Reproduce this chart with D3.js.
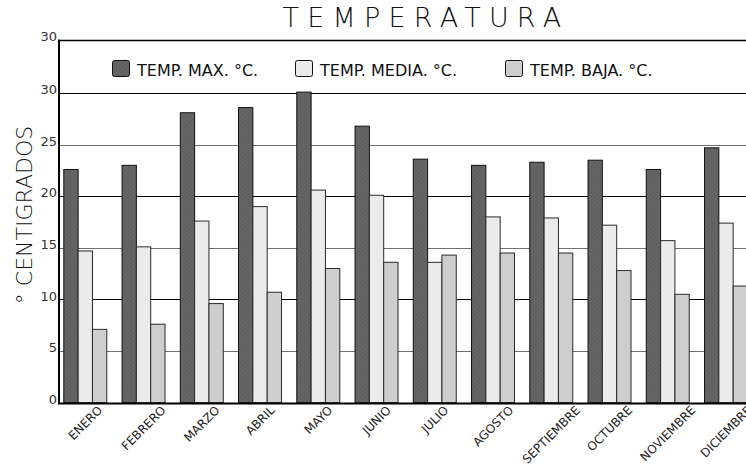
<!DOCTYPE html>
<html>
<head>
<meta charset="utf-8">
<script src="https://cdn.jsdelivr.net/npm/d3@7"></script>
<style>
  html, body { margin: 0; padding: 0; background: #fff; }
  svg { display: block; font-family: "DejaVu Sans", sans-serif; }
</style>
</head>
<body>
<div id="container"></div>
<script>
const months = ['ENERO', 'FEBRERO', 'MARZO', 'ABRIL', 'MAYO', 'JUNIO', 'JULIO', 'AGOSTO', 'SEPTIEMBRE', 'OCTUBRE', 'NOVIEMBRE', 'DICIEMBRE'];
const tempMax   = [22.6, 23.0, 28.1, 28.6, 30.1, 26.8, 23.6, 23.0, 23.3, 23.5, 22.6, 24.7];
const tempMedia = [14.7, 15.1, 17.6, 19.0, 20.6, 20.1, 13.6, 18.0, 17.9, 17.2, 15.7, 17.4];
const tempBaja  = [7.1, 7.6, 9.6, 10.7, 13.0, 13.6, 14.3, 14.5, 14.5, 12.8, 10.5, 11.3];
const seriesNames = ['TEMP. MAX. °C.', 'TEMP. MEDIA. °C.', 'TEMP. BAJA. °C.'];
const yTicks = [0, 5, 10, 15, 20, 25, 30, 35.2];
const yTickLabels = ['0', '5', '10', '15', '20', '25', '30', '30'];

const W = 746, H = 467;
const colors = ['url(#hatch)', '#ebebeb', '#cecece'];
const series = [tempMax, tempMedia, tempBaja];

const svg = d3.select('#container').append('svg')
    .attr('width', W).attr('height', H);

// subtle diagonal texture on the dark bars
const pat = svg.append('defs').append('pattern')
    .attr('id', 'hatch').attr('patternUnits', 'userSpaceOnUse')
    .attr('width', 3).attr('height', 3).attr('patternTransform', 'rotate(45)');
pat.append('rect').attr('width', 3).attr('height', 3).attr('fill', '#666');
pat.append('rect').attr('width', 1).attr('height', 3).attr('fill', '#5c5c5c');

const x = d3.scaleBand().domain(months).range([60, 750.3])
    .paddingInner(0.262).paddingOuter(0.0567);
const xs = d3.scaleBand().domain([0, 1, 2]).range([0, x.bandwidth()]);
const y = d3.scaleLinear().domain([0, 35.2]).range([402.6, 39.5]);

// gridlines
svg.append('g').selectAll('line')
    .data(yTicks.slice(1))
    .join('line')
    .attr('x1', 60).attr('x2', W)
    .attr('y1', d => Math.round(y(d)) + 0.5).attr('y2', d => Math.round(y(d)) + 0.5)
    .attr('stroke', d => (d % 10 === 5 ? '#707070' : '#000'))
    .attr('stroke-width', (d, i) => (i === yTicks.length - 2 ? 1.6 : 1.2));

// y tick labels
const yAxis = svg.append('g').attr('transform', 'translate(57,0)')
    .call(d3.axisLeft(y).tickValues(yTicks).tickSize(0)
        .tickFormat((d, i) => yTickLabels[i]));
yAxis.select('.domain').remove();
yAxis.selectAll('text')
    .attr('x', 0).attr('dy', '0.05em')
    .attr('font-size', 13).attr('fill', '#333')
    .attr('font-family', '"DejaVu Sans", sans-serif');

// bars
const groups = svg.append('g').selectAll('g')
    .data(months)
    .join('g')
    .attr('transform', d => `translate(${x(d)},0)`);

groups.selectAll('rect')
    .data((d, i) => series.map((s, k) => ({ k, v: s[i] })))
    .join('rect')
    .attr('x', d => xs(d.k) + 0.5)
    .attr('width', xs.bandwidth())
    .attr('y', d => y(d.v))
    .attr('height', d => y(0) - y(d.v))
    .attr('fill', d => colors[d.k])
    .attr('stroke', d => (d.k === 0 ? '#111' : '#2a2a2a'))
    .attr('stroke-width', 1);

// axes lines
svg.append('line').attr('x1', 59).attr('x2', 59).attr('y1', y(35.2)).attr('y2', 404)
    .attr('stroke', '#000').attr('stroke-width', 2);
svg.append('line').attr('x1', 58).attr('x2', W).attr('y1', 403.5).attr('y2', 403.5)
    .attr('stroke', '#000').attr('stroke-width', 2.2);

// x labels, rotated 45deg, hanging from the axis and centred on the category
const xl = svg.append('g').selectAll('text')
    .data(months)
    .join('text')
    .attr('text-anchor', 'end')
    .attr('font-size', 12)
    .attr('fill', '#222')
    .text(d => d);
xl.each(function(d) {
    const L = this.getComputedTextLength();
    const cx = x(d) + x.bandwidth() / 2;
    const ex = cx + L * 0.3536 + 3.5;
    const ey = 411;
    d3.select(this)
        .attr('x', ex).attr('y', ey)
        .attr('transform', `rotate(-45 ${ex} ${ey})`);
});

// title
svg.append('text')
    .attr('x', 426).attr('y', 27)
    .attr('text-anchor', 'middle')
    .attr('font-size', 27).attr('font-weight', 200)
    .attr('letter-spacing', 8.2)
    .attr('fill', '#111')
    .text('TEMPERATURA');

// y title
svg.append('text')
    .attr('transform', 'translate(32,215) rotate(-90)')
    .attr('text-anchor', 'middle')
    .attr('font-size', 22).attr('font-weight', 200)
    .attr('fill', '#111')
    .text('° CENTIGRADOS');

// legend
const legendX = [112, 295, 505];
const lg = svg.append('g').selectAll('g')
    .data(seriesNames)
    .join('g')
    .attr('transform', (d, i) => `translate(${legendX[i]},60)`);
lg.append('rect')
    .attr('x', 0.5).attr('y', 0.5).attr('width', 17).attr('height', 16)
    .attr('rx', 2)
    .attr('fill', (d, i) => colors[i])
    .attr('stroke', '#111').attr('stroke-width', 1);
lg.append('text')
    .attr('x', 25).attr('y', 15.5)
    .attr('font-size', 16)
    .attr('fill', '#111')
    .text(d => d);
</script>
</body>
</html>
